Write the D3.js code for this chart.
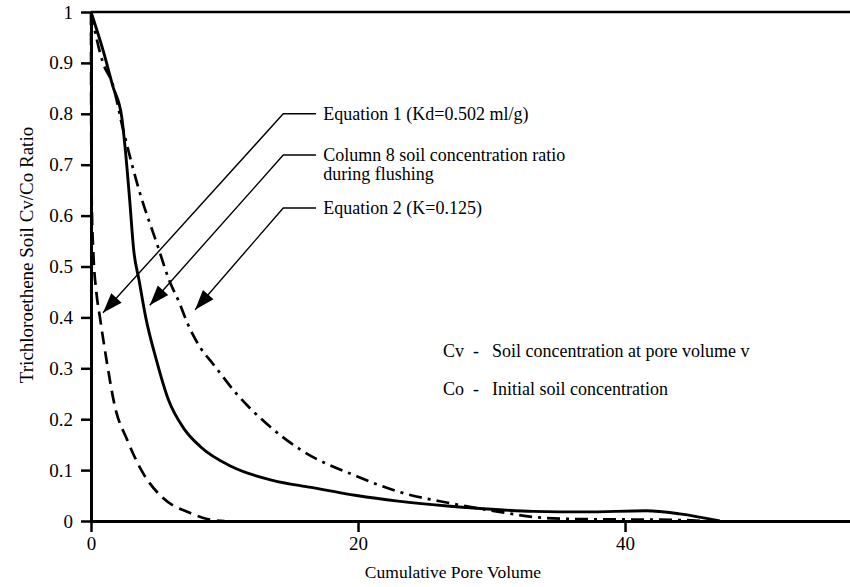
<!DOCTYPE html>
<html>
<head>
<meta charset="utf-8">
<script src="https://cdn.jsdelivr.net/npm/d3@7"></script>
<style>
  body { margin: 0; background: #fff; }
  svg { display: block; font-family: "Liberation Serif", "Times New Roman", serif; }
</style>
</head>
<body>
<svg width="850" height="587"></svg>
<script>
// tick values / labels
const xTicks = [0, 20, 40];
const yTicks = [0, 0.1, 0.2, 0.3, 0.4, 0.5, 0.6, 0.7, 0.8, 0.9, 1];
const yTickLabels = ["0", "0.1", "0.2", "0.3", "0.4", "0.5", "0.6", "0.7", "0.8", "0.9", "1"];

// Equation 1 (Kd=0.502 ml/g) -- dashed
const eq1X = [0, 0.02, 0.06, 0.17, 0.4, 0.67, 1.2, 1.8, 2.7, 3.9, 5.4, 7.4, 8.7, 10];
const eq1Y = [1, 0.75, 0.62, 0.53, 0.45, 0.40, 0.31, 0.224, 0.16, 0.094, 0.045, 0.016, 0.004, 0];

// Column 8 measured ratio -- solid
const colX = [0, 0.9, 1.65, 2.3, 2.55, 2.9, 3.2, 3.6, 4.1, 4.9, 5.8, 7.0, 8.2, 10.6, 13.6, 16.5, 19.9, 23.0, 26.9, 30.0, 33.1, 37.0, 41.6, 44.1, 47.1];
const colY = [1, 0.925, 0.853, 0.794, 0.735, 0.63, 0.532, 0.473, 0.40, 0.316, 0.238, 0.18, 0.146, 0.106, 0.08, 0.066, 0.05, 0.039, 0.029, 0.023, 0.019, 0.018, 0.02, 0.014, 0];

// Equation 2 (K=0.125) -- dash-dot
const eq2X = [0, 0.4, 0.9, 1.6, 2.4, 3.6, 5.0, 5.9, 6.6, 7.2, 8.2, 9.1, 10.9, 13.2, 15.7, 19.9, 23.1, 26.9, 30.6, 33.1, 36, 40, 44, 46];
const eq2Y = [1, 0.95, 0.90, 0.86, 0.77, 0.65, 0.54, 0.47, 0.43, 0.39, 0.34, 0.31, 0.25, 0.19, 0.14, 0.088, 0.057, 0.035, 0.018, 0.008, 0.004, 0.003, 0.002, 0];

// callouts: label, elbow (data units), arrow tip (data units)
const calloutLabels = [["Equation 1 (Kd=0.502 ml/g)"], ["Column 8 soil concentration ratio", "during flushing"], ["Equation 2 (K=0.125)"]];
const calloutElbowY = [0.80, 0.719, 0.615];
const calloutTipX = [0.9, 4.4, 7.8];
const calloutTipY = [0.409, 0.424, 0.415];
const calloutElbowX = 14.4, calloutEndX = 16.85, calloutTextX = 17.4;

const legendKeys = ["Cv", "Co"];
const legendTexts = ["Soil concentration at pore volume v", "Initial soil concentration"];

const svg = d3.select("svg");
const x = d3.scaleLinear().domain([0, 57]).range([91, 852]);
const y = d3.scaleLinear().domain([0, 1]).range([521, 12]);

const line = d3.line()
  .x(d => x(d[0]))
  .y(d => y(d[1]))
  .curve(d3.curveMonotoneX);

const zip = (xs, ys) => xs.map((v, i) => [v, ys[i]]);

// curves
svg.append("path")
  .datum(zip(eq1X, eq1Y))
  .attr("d", line)
  .attr("fill", "none")
  .attr("stroke", "#000")
  .attr("stroke-width", 2.7)
  .attr("stroke-dasharray", "13,7");

svg.append("path")
  .datum(zip(colX, colY))
  .attr("d", line)
  .attr("fill", "none")
  .attr("stroke", "#000")
  .attr("stroke-width", 2.9);

svg.append("path")
  .datum(zip(eq2X, eq2Y))
  .attr("d", line)
  .attr("fill", "none")
  .attr("stroke", "#000")
  .attr("stroke-width", 2.7)
  .attr("stroke-dasharray", "13,6,3,6");

// axes
const yAxis = svg.append("g")
  .attr("transform", "translate(" + x(0) + ",0)")
  .call(d3.axisLeft(y).tickValues(yTicks).tickFormat((d, i) => yTickLabels[i]).tickSize(10).tickSizeOuter(0).tickPadding(8));

const xAxis = svg.append("g")
  .attr("transform", "translate(0," + y(0) + ")")
  .call(d3.axisBottom(x).tickValues(xTicks).tickFormat(d3.format("d")).tickSize(11).tickSizeOuter(0).tickPadding(5));

[yAxis, xAxis].forEach(g => {
  g.select(".domain").attr("stroke-width", 3);
  g.selectAll(".tick line").attr("stroke-width", 2.5);
  g.selectAll(".tick text")
    .attr("font-family", "Liberation Serif")
    .attr("font-size", 19)
    .attr("fill", "#000");
});

// top frame line
svg.append("line")
  .attr("x1", x(0)).attr("x2", x(57))
  .attr("y1", y(1)).attr("y2", y(1))
  .attr("stroke", "#000")
  .attr("stroke-width", 2.5);

// axis titles
svg.append("text")
  .attr("x", 453).attr("y", 578)
  .attr("text-anchor", "middle")
  .attr("font-size", 17.5)
  .text("Cumulative Pore Volume");

svg.append("text")
  .attr("transform", "translate(33,255) rotate(-90)")
  .attr("text-anchor", "middle")
  .attr("font-size", 19)
  .text("Trichloroethene Soil Cv/Co Ratio");

// callouts
calloutLabels.forEach((lines, i) => {
  const ex = x(calloutElbowX), ey = y(calloutElbowY[i]);
  const tx = x(calloutTipX[i]), ty = y(calloutTipY[i]);
  svg.append("path")
    .attr("d", "M" + x(calloutEndX) + "," + ey + "L" + ex + "," + ey + "L" + tx + "," + ty)
    .attr("fill", "none")
    .attr("stroke", "#000")
    .attr("stroke-width", 1.4);

  // arrow head
  const ang = Math.atan2(ty - ey, tx - ex);
  const len = 20, half = 7;
  const bx = tx - len * Math.cos(ang), by = ty - len * Math.sin(ang);
  const nx = -Math.sin(ang) * half, ny = Math.cos(ang) * half;
  svg.append("path")
    .attr("d", "M" + tx + "," + ty + "L" + (bx + nx) + "," + (by + ny) + "L" + (bx - nx) + "," + (by - ny) + "Z")
    .attr("fill", "#000");

  const t = svg.append("text")
    .attr("x", x(calloutTextX))
    .attr("y", ey + 6)
    .attr("font-size", 18);
  lines.forEach((s, j) => {
    t.append("tspan").attr("x", x(calloutTextX)).attr("dy", j === 0 ? 0 : 19).text(s);
  });
});

// legend
legendKeys.forEach((k, i) => {
  const ly = 357 + i * 38;
  svg.append("text").attr("x", 443).attr("y", ly).attr("font-size", 18).text(k);
  svg.append("text").attr("x", 473).attr("y", ly).attr("font-size", 18).text("-");
  svg.append("text").attr("x", 492).attr("y", ly).attr("font-size", 18).text(legendTexts[i]);
});
</script>
</body>
</html>
